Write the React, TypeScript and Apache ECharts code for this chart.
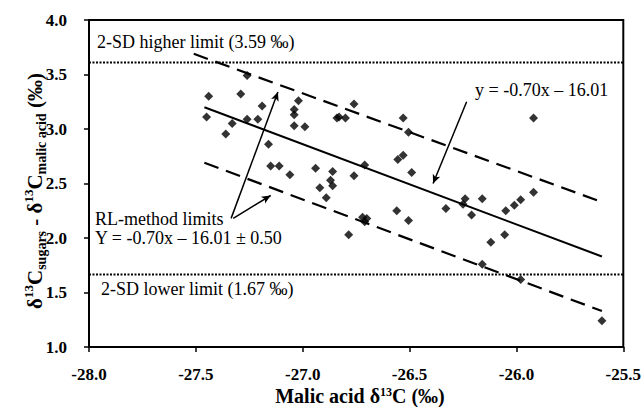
import React, { useEffect, useRef } from "react";
import * as echarts from "echarts";

const xValues = [
  -27.45, -27.44, -27.36, -27.33, -27.29, -27.26, -27.26, -27.21, -27.19, -27.16,
  -27.15, -27.11, -27.06, -27.04, -27.04, -27.04, -27.02, -26.99, -26.94, -26.92,
  -26.89, -26.87, -26.86, -26.86, -26.84, -26.83, -26.8, -26.785, -26.76, -26.76,
  -26.72, -26.71, -26.7, -26.71, -26.56, -26.555, -26.53, -26.53, -26.505, -26.505,
  -26.49, -26.33, -26.25, -26.24, -26.21, -26.16, -26.16, -26.12, -26.05, -26.055,
  -26.01, -25.98, -25.98, -25.92, -25.92, -25.6,
];
const yValues = [
  3.11, 3.3, 2.955, 3.05, 3.32, 3.49, 3.09, 3.09, 3.21, 2.86,
  2.66, 2.66, 2.58, 3.03, 3.18, 3.13, 3.26, 3.02, 2.64, 2.46,
  2.37, 2.53, 2.48, 2.61, 3.1, 3.11, 3.1, 2.03, 2.57, 3.23,
  2.19, 2.15, 2.18, 2.67, 2.25, 2.72, 2.76, 3.1, 2.97, 2.16,
  2.6, 2.27, 2.31, 2.36, 2.21, 2.36, 1.76, 1.96, 2.25, 2.03,
  2.3, 2.35, 1.62, 2.42, 3.1, 1.24,
];

const regLineX = [-27.46, -25.6];
const regLineY = [3.2, 1.83];
const upperLineX = [-27.51, -25.6];
const upperLineY = [3.69, 2.33];
const lowerLineX = [-27.46, -25.6];
const lowerLineY = [2.69, 1.33];
const sdHigh = 3.61;
const sdLow = 1.665;

const xTicks = { min: -28, max: -25.5, interval: 0.5 };
const yTicks = { min: 1, max: 4, interval: 0.5 };

// arrows: [x1, y1, x2, y2] in data units
const arrowRL1 = [-27.335, 2.18, -27.116, 3.34];
const arrowRL2 = [-27.325, 2.18, -27.15, 2.39];
const arrowEq = [-26.233, 3.25, -26.39, 2.5];

const FONT = "Liberation Serif";

const tickRich = {
  t: { fontFamily: FONT, fontWeight: "bold", fontSize: 17, color: "#000" },
};

export default function App() {
  const ref = useRef<HTMLDivElement>(null);
  useEffect(() => {
    if (!ref.current) return;
    const chart = echarts.init(ref.current, undefined, { renderer: "svg" });
    const pts = xValues.map((x, i) => [x, yValues[i]]);
    const pair = (xs: number[], ys: number[]) => [
      [xs[0], ys[0]],
      [xs[1], ys[1]],
    ];
    const arrow = (a: number[]) => [{ coord: [a[0], a[1]] }, { coord: [a[2], a[3]] }];
    chart.setOption({
      animation: false,
      backgroundColor: "#fff",
      textStyle: { fontFamily: FONT },
      grid: {
        left: 89,
        right: 13,
        top: 20,
        bottom: 60,
        show: true,
        borderColor: "#000",
        borderWidth: 2,
      },
      xAxis: {
        type: "value",
        min: xTicks.min,
        max: xTicks.max,
        interval: xTicks.interval,
        axisLine: { show: true, lineStyle: { color: "#000", width: 2 } },
        axisTick: { show: true, length: 5, lineStyle: { color: "#000", width: 1.5 } },
        splitLine: { show: false },
        axisLabel: {
          color: "#000",
          fontFamily: FONT,
          fontWeight: "bold",
          fontSize: 17,
          margin: 19,
          rich: tickRich,
          formatter: (v: number) => `{t|${v.toFixed(1)}}`,
        },
      },
      yAxis: {
        type: "value",
        min: yTicks.min,
        max: yTicks.max,
        interval: yTicks.interval,
        axisLine: { show: true, lineStyle: { color: "#000", width: 2 } },
        axisTick: { show: true, length: 5, lineStyle: { color: "#000", width: 1.5 } },
        splitLine: { show: false },
        axisLabel: {
          color: "#000",
          fontFamily: FONT,
          fontWeight: "bold",
          fontSize: 17,
          margin: 22,
          rich: tickRich,
          formatter: (v: number) => `{t|${v.toFixed(1)}}`,
        },
      },
      series: [
        {
          type: "line",
          data: [
            [xTicks.min, sdHigh],
            [xTicks.max, sdHigh],
          ],
          showSymbol: false,
          lineStyle: { color: "#000", width: 2, type: [2, 1.5] },
          silent: true,
        },
        {
          type: "line",
          data: [
            [xTicks.min, sdLow],
            [xTicks.max, sdLow],
          ],
          showSymbol: false,
          lineStyle: { color: "#000", width: 2, type: [2, 1.5] },
          silent: true,
        },
        {
          type: "line",
          data: pair(upperLineX, upperLineY),
          showSymbol: false,
          lineStyle: { color: "#000", width: 2.2, type: [15, 8] },
          silent: true,
        },
        {
          type: "line",
          data: pair(lowerLineX, lowerLineY),
          showSymbol: false,
          lineStyle: { color: "#000", width: 2.2, type: [15, 8] },
          silent: true,
        },
        {
          type: "line",
          data: pair(regLineX, regLineY),
          showSymbol: false,
          lineStyle: { color: "#000", width: 2 },
          silent: true,
          markLine: {
            silent: true,
            symbol: ["none", "arrow"],
            symbolSize: [6, 9],
            label: { show: false },
            lineStyle: { color: "#000", width: 1.5, type: "solid" },
            data: [arrow(arrowRL1), arrow(arrowRL2), arrow(arrowEq)],
          },
        },
        {
          type: "scatter",
          data: pts,
          symbol: "diamond",
          symbolSize: 9,
          itemStyle: { color: "#000" },
        },
      ],
      graphic: [
        {
          type: "text",
          left: 97,
          top: 33,
          style: { text: "2-SD higher limit (3.59 ‰)", font: `18px ${FONT}`, fill: "#000" },
        },
        {
          type: "text",
          left: 101,
          top: 280,
          style: { text: "2-SD lower limit (1.67 ‰)", font: `18px ${FONT}`, fill: "#000" },
        },
        {
          type: "text",
          left: 95,
          top: 210,
          style: { text: "RL-method limits", font: `18px ${FONT}`, fill: "#000" },
        },
        {
          type: "text",
          left: 95,
          top: 229,
          style: { text: "Y = -0.70x – 16.01 ± 0.50", font: `18px ${FONT}`, fill: "#000" },
        },
        {
          type: "text",
          left: 475,
          top: 81,
          style: { text: "y = -0.70x – 16.01", font: `18px ${FONT}`, fill: "#000" },
        },
        {
          type: "text",
          x: 360,
          y: 396,
          style: {
            text: "{b|Malic acid δ}{sup|13}{b|C (‰)}",
            align: "center",
            verticalAlign: "middle",
            rich: {
              b: { fontFamily: FONT, fontWeight: "bold", fontSize: 20, fill: "#000", lineHeight: 20, verticalAlign: "bottom" },
              sup: { fontFamily: FONT, fontWeight: "bold", fontSize: 12, fill: "#000", lineHeight: 20, verticalAlign: "top" },
            },
          },
        },
        {
          type: "text",
          x: 35,
          y: 191,
          rotation: Math.PI / 2,
          style: {
            text: "{b|δ}{sup|13}{b|C}{sub|sugars}{b| - δ}{sup|13}{b|C}{sub|malic acid}{b| (‰)}",
            align: "center",
            verticalAlign: "middle",
            rich: {
              b: { fontFamily: FONT, fontWeight: "bold", fontSize: 21, fill: "#000", lineHeight: 26, verticalAlign: "middle" },
              sup: { fontFamily: FONT, fontWeight: "bold", fontSize: 13, fill: "#000", lineHeight: 26, verticalAlign: "top" },
              sub: { fontFamily: FONT, fontWeight: "bold", fontSize: 14, fill: "#000", lineHeight: 26, verticalAlign: "bottom" },
            },
          },
        },
      ],
    });
    return () => chart.dispose();
  }, []);
  return (
    <div
      ref={ref}
      style={{ position: "fixed", left: 0, top: 0, width: 644, height: 407, background: "#fff" }}
    />
  );
}
